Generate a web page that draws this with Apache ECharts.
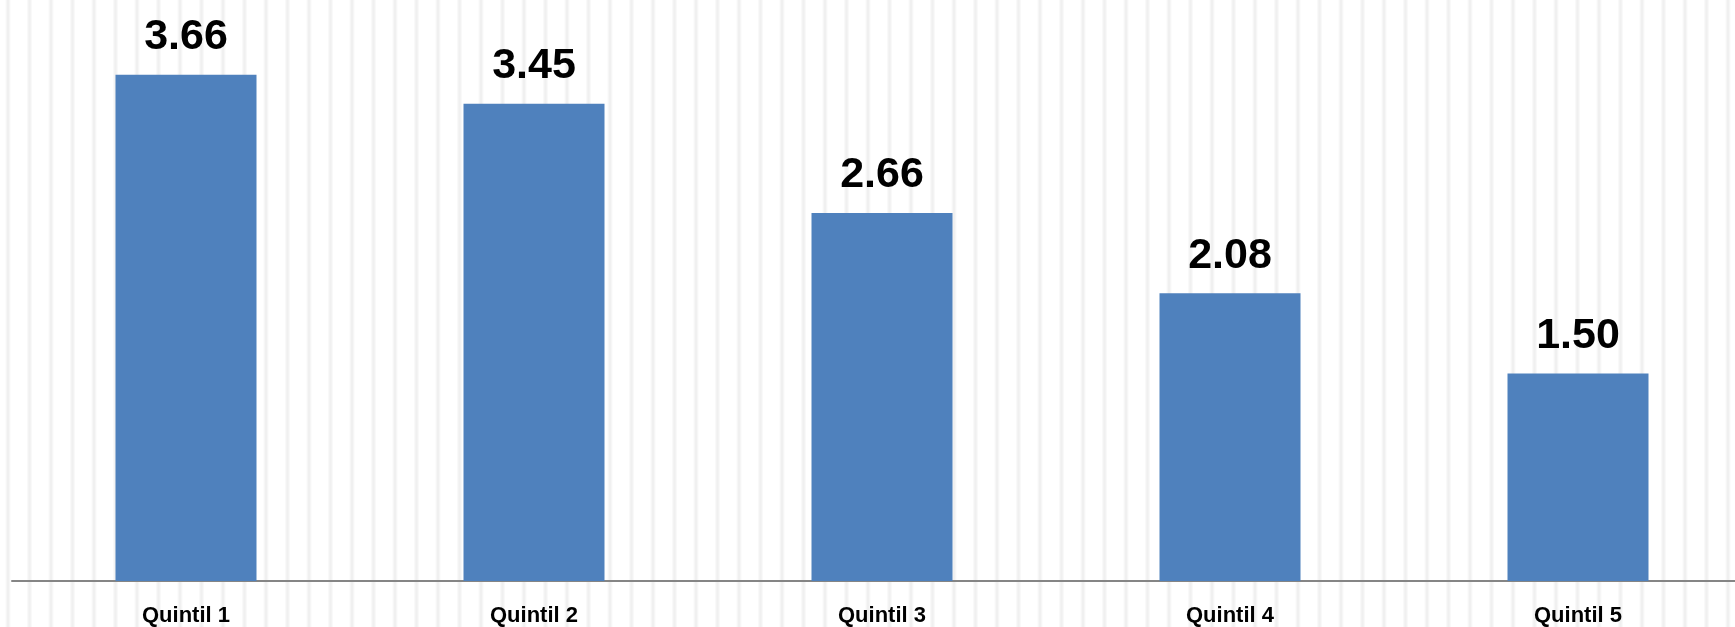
<!DOCTYPE html>
<html>
<head>
<meta charset="utf-8">
<script src="https://cdn.jsdelivr.net/npm/echarts@6/dist/echarts.min.js"></script>
<style>
  html, body { margin: 0; padding: 0; }
  body {
    width: 1735px; height: 627px; overflow: hidden;
    background: repeating-linear-gradient(to right, #ffffff 0px, #ffffff 5px, #f0f0f0 7.5px, #f0f0f0 8.5px, #ffffff 11px, #ffffff 21.5px);
  }
  /* el grafico original se sale un poco por la derecha */
  #chart { width: 1752px; height: 627px; }
</style>
</head>
<body>
<div id="chart"></div>
<script>
// categorias y valores
const categorias = ['Quintil 1', 'Quintil 2', 'Quintil 3', 'Quintil 4', 'Quintil 5'];
const valores = [3.66, 3.45, 2.66, 2.08, 1.50];

const chart = echarts.init(document.getElementById('chart'));
chart.setOption({
  backgroundColor: 'transparent',
  animation: false,
  grid: { left: 12, top: 0, right: 0, bottom: 46, containLabel: false },
  xAxis: {
    type: 'category',
    data: categorias,
    axisLine: { show: true, lineStyle: { color: '#858585', width: 2 } },
    axisTick: { show: false },
    axisLabel: {
      color: '#000', fontFamily: 'Liberation Sans', fontWeight: 'bold',
      fontSize: 22, margin: 24
    }
  },
  yAxis: {
    type: 'value', min: 0, max: 4.2,
    show: false,
    splitLine: { show: false }
  },
  series: [{
    type: 'bar',
    data: valores,
    barWidth: 141,
    itemStyle: { color: '#4f81bd' },
    label: {
      show: true,
      position: 'top',
      distance: 16,
      formatter: p => p.value.toFixed(2),
      color: '#000',
      fontFamily: 'Liberation Sans',
      fontWeight: 'bold',
      fontSize: 43
    }
  }]
});
</script>
</body>
</html>
